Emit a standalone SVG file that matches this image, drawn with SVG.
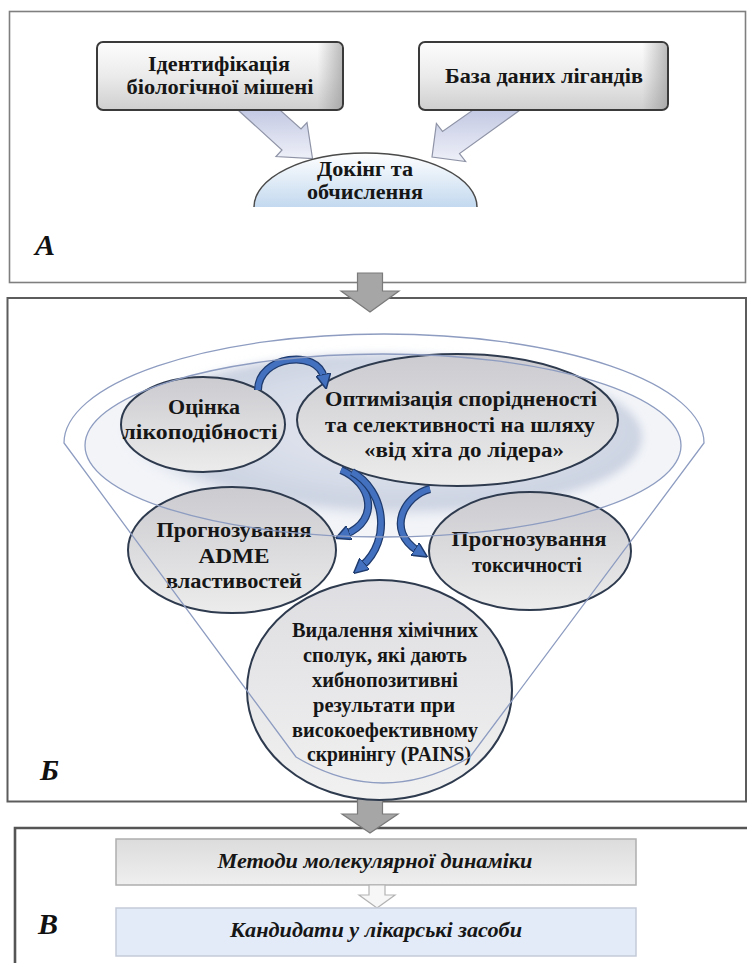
<svg xmlns="http://www.w3.org/2000/svg" width="747" height="963" viewBox="0 0 747 963">
<style>
.panel{fill:none;stroke:#7f7f7f;stroke-width:1.6}
.panelD{fill:none;stroke:#5c5c5c;stroke-width:2}
.t{font-family:"Liberation Serif","Times New Roman",serif;font-weight:bold;font-size:20.5px;fill:#161616;text-anchor:middle}
.tb{font-size:22px}
.ti{font-style:italic;font-size:21px}
.lbl{font-family:"Liberation Serif","Times New Roman",serif;font-weight:bold;font-style:italic;font-size:30px;fill:#111}
.box{fill:url(#gBox);stroke:#3a3a3a;stroke-width:2}
.barrow{fill:url(#gArrowA);stroke:#8e93a6;stroke-width:1.2}
.node{fill:url(#gEll);stroke:#2e3a4e;stroke-width:2}
.funnel{fill:none;stroke:#8d9cc0;stroke-width:1.3}
.bandO{fill:none;stroke:#1f3b6e;stroke-width:8}
.bandI{fill:none;stroke:#4471bf;stroke-width:5.5}
.garrow{fill:#a6a6a6;stroke:#7a7a7a;stroke-width:1.2}
</style>
<defs>
<linearGradient id="gBox" x1="0" y1="0" x2="0" y2="1">
<stop offset="0" stop-color="#fdfdfd"/><stop offset="0.5" stop-color="#ebebeb"/><stop offset="1" stop-color="#cfcfcf"/>
</linearGradient>
<linearGradient id="gBevel" x1="0" y1="0" x2="1" y2="0">
<stop offset="0.9" stop-color="#8a8a8a" stop-opacity="0"/><stop offset="1" stop-color="#8a8a8a" stop-opacity="0.55"/>
</linearGradient>
<linearGradient id="gArrowA" x1="0" y1="0" x2="0" y2="1">
<stop offset="0" stop-color="#c3c9e3"/><stop offset="1" stop-color="#eef0f8"/>
</linearGradient>
<linearGradient id="gDome" x1="0" y1="0" x2="0" y2="1">
<stop offset="0" stop-color="#ffffff"/><stop offset="1" stop-color="#c3d9ef"/>
</linearGradient>
<linearGradient id="gEll" x1="0" y1="0" x2="0" y2="1">
<stop offset="0" stop-color="#cbcbd0"/><stop offset="1" stop-color="#ececec"/>
</linearGradient>
<linearGradient id="gEll2" x1="0" y1="0" x2="0" y2="1">
<stop offset="0" stop-color="#dedee2"/><stop offset="1" stop-color="#f1f1f1"/>
</linearGradient>
<radialGradient id="gShade" cx="0.55" cy="0.45" r="0.55">
<stop offset="0" stop-color="#e6e9f1"/><stop offset="0.6" stop-color="#d6dce8"/><stop offset="0.85" stop-color="#cbd2e1"/><stop offset="1" stop-color="#dfe4ee" stop-opacity="0"/>
</radialGradient>
<linearGradient id="gMeth" x1="0" y1="0" x2="0" y2="1">
<stop offset="0" stop-color="#dcdcdc"/><stop offset="1" stop-color="#efefef"/>
</linearGradient>
<filter id="soft" x="-10%" y="-10%" width="120%" height="120%"><feGaussianBlur stdDeviation="4"/></filter>
<marker id="bh" viewBox="0 0 12 12" refX="3" refY="6" markerWidth="15" markerHeight="15" markerUnits="userSpaceOnUse" orient="auto">
<path d="M0,0 L12,6 L0,12 Z" fill="#4471bf" stroke="#1f3b6e" stroke-width="1.2"/>
</marker>
</defs>

<!-- panels -->
<rect class="panel" x="9.5" y="11.5" width="736" height="271"/>
<rect class="panelD" x="7.5" y="298" width="738.5" height="503.5"/>
<path d="M15,963 L15,828 L747,828" fill="none" stroke="#555" stroke-width="2.6"/>

<!-- Panel A -->
<g id="connectors-A">
<polygon class="barrow" points="238,110 280,110 301,129 307,122.5 312.5,158.5 276,156.5 282,150"/>
<polygon class="barrow" points="473,110 520,110 459.5,153.6 465.6,161.5 432,157 436.4,123.5 442.5,131.4"/>
</g>
<g id="node-target">
<rect class="box" x="97" y="42" width="246" height="68" rx="6"/>
<rect x="98" y="43" width="244" height="66" rx="5" fill="url(#gBevel)"/>
<text class="t tb" x="219" y="71" textLength="142" lengthAdjust="spacingAndGlyphs">Ідентифікація</text>
<text class="t tb" x="220" y="94" textLength="187" lengthAdjust="spacingAndGlyphs">біологічної мішені</text>
</g>
<g id="node-ligands">
<rect class="box" x="419" y="42" width="249" height="68" rx="6"/>
<rect x="420" y="43" width="247" height="66" rx="5" fill="url(#gBevel)"/>
<text class="t tb" x="544" y="83" textLength="198" lengthAdjust="spacingAndGlyphs">База даних лігандів</text>
</g>
<g id="node-docking">
<path d="M254,207 A111.5,54 0 0 1 477,207 Z" fill="url(#gDome)"/>
<path d="M254,207 A111.5,54 0 0 1 477,207" fill="none" stroke="#4a4a4a" stroke-width="1.5"/>
<text class="t" x="365" y="176" textLength="96" lengthAdjust="spacingAndGlyphs">Докінг та</text>
<text class="t" x="365" y="199" textLength="116" lengthAdjust="spacingAndGlyphs">обчислення</text>
</g>
<text class="lbl" x="35" y="255">А</text>

<!-- arrows between panels -->
<g id="connectors-main">
<polygon class="garrow" points="357.5,273 382.5,273 382.5,291 399,291 370,312 341,291 357.5,291"/>
<polygon class="garrow" points="357.5,798 382.5,798 382.5,814 398,814 370,833 342,814 357.5,814"/>
</g>

<!-- Panel B background funnel -->
<g id="funnel-bg">
<ellipse cx="383" cy="445.5" rx="298" ry="91.5" fill="#f2f4f8"/>
<ellipse cx="380" cy="437" rx="262" ry="83" fill="url(#gShade)" filter="url(#soft)"/>
</g>

<g id="node-druglike">
<ellipse class="node" cx="203" cy="424.5" rx="82" ry="47.5"/>
<text class="t" x="204" y="414" textLength="72" lengthAdjust="spacingAndGlyphs">Оцінка</text>
<text class="t" x="200" y="439" textLength="155" lengthAdjust="spacingAndGlyphs">лікоподібності</text>
</g>
<g id="node-optim">
<ellipse class="node" cx="457.5" cy="420" rx="160.5" ry="66"/>
<text class="t" x="461" y="406" textLength="272" lengthAdjust="spacingAndGlyphs">Оптимізація спорідненості</text>
<text class="t" x="460" y="432" textLength="270" lengthAdjust="spacingAndGlyphs">та селективності на шляху</text>
<text class="t" x="464" y="457" textLength="200" lengthAdjust="spacingAndGlyphs">«від хіта до лідера»</text>
</g>
<g id="node-adme">
<ellipse class="node" cx="232" cy="550" rx="104" ry="63"/>
<text class="t" x="234" y="537" textLength="155" lengthAdjust="spacingAndGlyphs">Прогнозування</text>
<text class="t" x="234" y="563" textLength="71" lengthAdjust="spacingAndGlyphs">ADME</text>
<text class="t" x="234" y="588" textLength="136" lengthAdjust="spacingAndGlyphs">властивостей</text>
</g>
<g id="node-tox">
<ellipse class="node" cx="530" cy="551" rx="101" ry="59"/>
<text class="t" x="529" y="546" textLength="155" lengthAdjust="spacingAndGlyphs">Прогнозування</text>
<text class="t" x="527" y="572" textLength="110" lengthAdjust="spacingAndGlyphs">токсичності</text>
</g>
<g id="node-pains">
<ellipse class="node" cx="379.5" cy="690" rx="132.5" ry="110" style="fill:url(#gEll2)"/>
<text class="t" x="385" y="637" textLength="186" lengthAdjust="spacingAndGlyphs">Видалення хімічних</text>
<text class="t" x="385" y="662" textLength="164" lengthAdjust="spacingAndGlyphs">сполук, які дають</text>
<text class="t" x="385" y="687" textLength="146" lengthAdjust="spacingAndGlyphs">хибнопозитивні</text>
<text class="t" x="384" y="712" textLength="142" lengthAdjust="spacingAndGlyphs">результати при</text>
<text class="t" x="385" y="737" textLength="186" lengthAdjust="spacingAndGlyphs">високоефективному</text>
<text class="t" x="389" y="761" textLength="164" lengthAdjust="spacingAndGlyphs">скринінгу (PAINS)</text>
</g>

<g id="connectors-B">
<path class="bandO" d="M258,390 C258,356 318,348 324,378"/>
<path class="bandI" d="M258,390 C258,356 318,348 324,378" marker-end="url(#bh)"/>
<path class="bandO" d="M341,470 C372,483 380,520 346,534"/>
<path class="bandI" d="M341,470 C372,483 380,520 346,534" marker-end="url(#bh)"/>
<path class="bandO" d="M352,472 C385,490 392,540 362,566"/>
<path class="bandI" d="M352,472 C385,490 392,540 362,566" marker-end="url(#bh)"/>
<path class="bandO" d="M430,489 C405,495 385,530 418,551"/>
<path class="bandI" d="M430,489 C405,495 385,530 418,551" marker-end="url(#bh)"/>
</g>

<g id="funnel-lines">
<ellipse class="funnel" cx="383" cy="445.5" rx="298" ry="91.5"/>
<path class="funnel" d="M64,443 A320,109 0 0 1 704,443 L470,757 Q383,809 296,757 Z"/>
</g>
<text class="lbl" x="40" y="780">Б</text>

<!-- Panel V -->
<g id="node-md">
<rect x="116" y="839" width="520" height="46" fill="url(#gMeth)" stroke="#aeaeae" stroke-width="1.5"/>
<text class="t ti" x="375" y="868" textLength="315" lengthAdjust="spacingAndGlyphs">Методи молекулярної динаміки</text>
</g>
<g id="connectors-V">
<polygon points="369,885 385,885 385,895 395,895 377,908 359,895 369,895" fill="#f7f7f7" stroke="#b3b3b3" stroke-width="1.2"/>
</g>
<g id="node-cand">
<rect x="116" y="908" width="520" height="48" fill="#e3ebf8" stroke="#c3cad8" stroke-width="1.5"/>
<text class="t ti" x="376" y="937" textLength="292" lengthAdjust="spacingAndGlyphs">Кандидати у лікарські засоби</text>
</g>
<text class="lbl" x="38" y="934">В</text>
</svg>
